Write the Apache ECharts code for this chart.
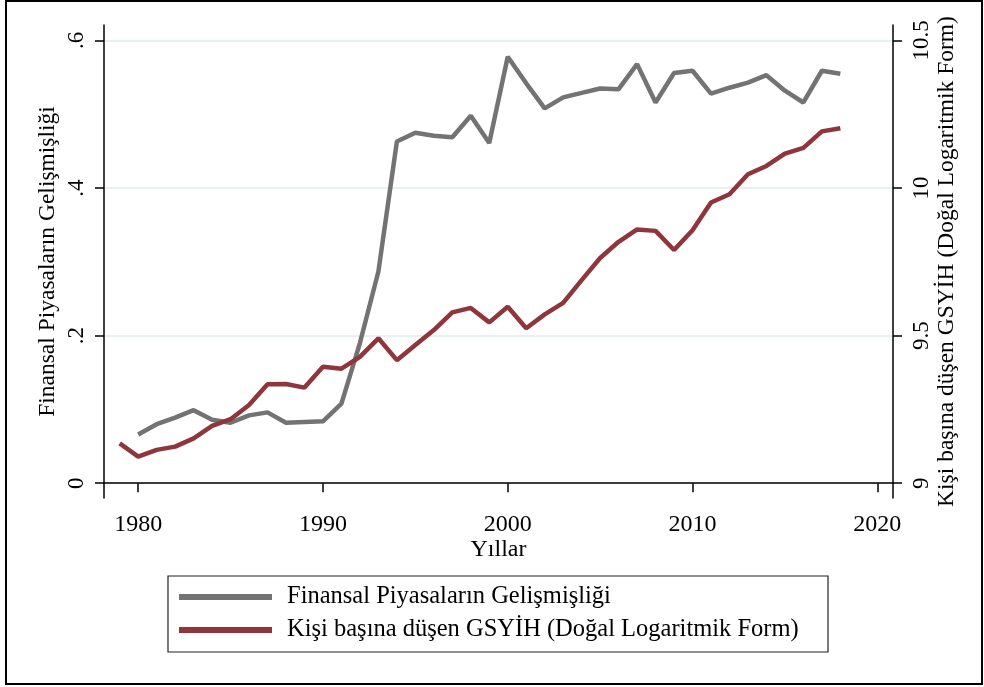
<!DOCTYPE HTML>
<html>
<head>
  <meta charset="utf-8" />
  <title>Finansal Piyasalar ve GSYİH</title>
  <style>
    html, body { margin: 0; padding: 0; background: #fff; }
    #main { width: 984px; height: 687px; }
  </style>
</head>
<body>
  <div id="main"></div>
  <script src="https://cdn.jsdelivr.net/npm/echarts@6/dist/echarts.min.js"></script>
  <script type="text/javascript">
    // yillar
    var finYears = [1980, 1981, 1982, 1983, 1984, 1985, 1986, 1987, 1988, 1989,
      1990, 1991, 1992, 1993, 1994, 1995, 1996, 1997, 1998, 1999,
      2000, 2001, 2002, 2003, 2004, 2005, 2006, 2007, 2008, 2009,
      2010, 2011, 2012, 2013, 2014, 2015, 2016, 2017, 2018];
    var finValues = [0.066, 0.080, 0.089, 0.099, 0.086, 0.082, 0.092, 0.096, 0.082, 0.083,
      0.084, 0.108, 0.190, 0.287, 0.463, 0.475, 0.471, 0.469, 0.498, 0.461,
      0.578, 0.542, 0.508, 0.523, 0.529, 0.535, 0.534, 0.568, 0.516, 0.556,
      0.559, 0.528, 0.536, 0.543, 0.553, 0.532, 0.516, 0.559, 0.555];

    var gdpYears = [1979].concat(finYears);
    var gdpValues = [9.135, 9.090, 9.113, 9.124, 9.152, 9.194, 9.217, 9.265, 9.335, 9.336, 9.324,
      9.395, 9.388, 9.428, 9.491, 9.417, 9.468, 9.519, 9.579, 9.594, 9.545,
      9.598, 9.525, 9.572, 9.611, 9.688, 9.763, 9.818, 9.860, 9.855, 9.790,
      9.857, 9.951, 9.979, 10.047, 10.075, 10.117, 10.136, 10.192, 10.203];

    var xTicks = [1980, 1990, 2000, 2010, 2020];
    var leftTicks = [0, 0.2, 0.4, 0.6];
    var rightTicks = [9, 9.5, 10, 10.5];

    var seriesNames = ['Finansal Piyasaların Gelişmişliği', 'Kişi başına düşen GSYİH (Doğal Logaritmik Form)'];

    function pairs(xs, ys) {
      var out = [];
      for (var i = 0; i < xs.length; i++) out.push([xs[i], ys[i]]);
      return out;
    }

    var font = '"Liberation Serif", "DejaVu Serif", serif';
    var chart = echarts.init(document.getElementById('main'), null, { renderer: 'canvas' });

    chart.setOption({
      animation: false,
      textStyle: { fontFamily: font },
      grid: { left: 104, right: 91, top: 25, bottom: 189 },
      graphic: [
        {
          type: 'rect',
          shape: { x: 6, y: 1, width: 976, height: 683 },
          style: { fill: 'none', stroke: '#000', lineWidth: 2 },
          silent: true
        },
        {
          type: 'rect',
          shape: { x: 168, y: 576, width: 660, height: 76 },
          style: { fill: 'none', stroke: '#222', lineWidth: 1.2 },
          silent: true
        }
      ],
      legend: {
        orient: 'vertical',
        left: 179,
        top: 584,
        icon: 'rect',
        itemWidth: 93,
        itemHeight: 6,
        itemGap: 7,
        itemTextGap: 16,
        padding: 0,
        textStyle: { fontFamily: font, fontSize: 24.5, color: '#000', lineHeight: 26, padding: [0, 0, 0, 10] },
        data: seriesNames
      },
      xAxis: {
        type: 'value',
        min: 1978.15,
        max: 2020.85,
        name: 'Yıllar',
        nameLocation: 'middle',
        nameGap: 40,
        nameMoveOverlap: false,
        nameTextStyle: { fontFamily: font, fontSize: 24, color: '#000' },
        axisLine: { show: true, lineStyle: { color: '#000', width: 1.5 } },
        axisTick: { show: true, length: 9, customValues: xTicks, lineStyle: { color: '#000', width: 1.5 } },
        axisLabel: {
          customValues: xTicks,
          margin: 15,
          fontFamily: font,
          fontSize: 24,
          color: '#000',
          formatter: function (v) { return String(v); }
        },
        splitLine: { show: false }
      },
      yAxis: [
        {
          type: 'value',
          position: 'left',
          min: -0.02,
          max: 0.621,
          name: 'Finansal Piyasaların Gelişmişliği',
          nameLocation: 'middle',
          nameRotate: 90,
          nameGap: 44,
          nameMoveOverlap: false,
          nameTextStyle: { fontFamily: font, fontSize: 23.5, color: '#000' },
          axisLine: { show: true, lineStyle: { color: '#000', width: 1.5 } },
          axisTick: { show: true, length: 9, customValues: leftTicks, lineStyle: { color: '#000', width: 1.5 } },
          axisLabel: {
            customValues: leftTicks,
            rotate: 90,
            margin: 16,
            fontFamily: font,
            fontSize: 23,
            color: '#000',
            formatter: function (v) {
              return v === 0 ? '0' : String(v).replace(/^0/, '');
            }
          },
          splitLine: { show: true, lineStyle: { color: '#e8f0f2', width: 2 } }
        },
        {
          type: 'value',
          position: 'right',
          min: 8.95,
          max: 10.5525,
          name: 'Kişi başına düşen GSYİH (Doğal Logaritmik Form)',
          nameLocation: 'middle',
          nameRotate: 90,
          nameGap: 42,
          nameMoveOverlap: false,
          nameTextStyle: { fontFamily: font, fontSize: 23.5, color: '#000' },
          axisLine: { show: true, lineStyle: { color: '#000', width: 1.5 } },
          axisTick: { show: true, length: 9, customValues: rightTicks, lineStyle: { color: '#000', width: 1.5 } },
          axisLabel: { customValues: rightTicks, rotate: 90, margin: 17, fontFamily: font, fontSize: 23, color: '#000' },
          splitLine: { show: false }
        }
      ],
      series: [
        {
          name: seriesNames[0],
          type: 'line',
          yAxisIndex: 0,
          showSymbol: false,
          symbol: 'none',
          color: '#737373',
          lineStyle: { width: 4.5, color: '#737373' },
          data: pairs(finYears, finValues)
        },
        {
          name: seriesNames[1],
          type: 'line',
          yAxisIndex: 1,
          showSymbol: false,
          symbol: 'none',
          color: '#8e363c',
          lineStyle: { width: 4.5, color: '#8e363c' },
          data: pairs(gdpYears, gdpValues)
        }
      ]
    });
  </script>
</body>
</html>
